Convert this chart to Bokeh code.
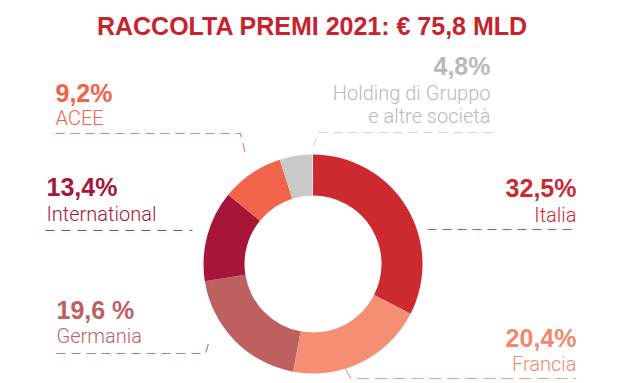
import numpy as np
from bokeh.plotting import figure
from bokeh.models import Range1d, ColumnDataSource
from bokeh.core.properties import value
from bokeh.embed import file_html
from bokeh.resources import INLINE

# ---- data ----
title_text = "RACCOLTA PREMI 2021: € 75,8 MLD"
categories = ["Italia", "Francia", "Germania", "International", "ACEE", "Holding di Gruppo"]
category_line2 = ["", "", "", "", "", "e altre società"]
shares = [32.5, 20.4, 19.6, 13.4, 9.2, 4.8]
share_labels = ["32,5%", "20,4%", "19,6 %", "13,4%", "9,2%", "4,8%"]

# ---- styles / layout ----
seg_colors = ["#cc2a2f", "#f58f74", "#be5f60", "#a71538", "#f1644a", "#c9c9c9"]
txt_colors = ["#cc2a2f", "#f4886c", "#bf5f60", "#a71538", "#f0634a", "#b9b9b9"]
title_color = "#c8232c"
BOLD_FONT = "Liberation Sans"
LABEL_FONT = "Roboto Light"
BOLD_DESC = 0.212 * 25   # descent offset for bottom-baseline placement
LABEL_DESC = 0.244 * 20

W, H = 624, 383
p = figure(width=W, height=H, output_backend="svg", toolbar_location=None,
           x_range=Range1d(0, W), y_range=Range1d(-H, 0),
           x_axis_type=None, y_axis_type=None, min_border=0)
p.grid.visible = False
p.outline_line_color = None
p.background_fill_color = "white"
p.border_fill_color = "white"

# donut
cx, cy = 312.5, -263.5
r_in, r_out = 68.5, 109.5
fr = np.array(shares) / 100.0
cum = np.concatenate([[0.0], np.cumsum(fr)])
start = np.pi / 2 - 2 * np.pi * cum[:-1]
end = np.pi / 2 - 2 * np.pi * cum[1:]
src = ColumnDataSource(dict(start=start, end=end, color=seg_colors))
p.annular_wedge(x=cx, y=cy, inner_radius=r_in, outer_radius=r_out,
                start_angle="start", end_angle="end", direction="clock",
                fill_color="color", line_color=None, source=src)

# label layout per category (image px): anchor x, align, pct baseline, label baselines, leader path, dash
layout = [
    (576, "right", 196, [222], [(427, 229), (576, 229)], "9 6"),
    (576, "right", 346, [371], [(345, 368), (350, 378), (576, 378)], "12 6"),
    (56, "left", 318, [343], [(56, 353), (205, 353), (208, 343)], "9 6"),
    (46, "left", 195, [221], [(45, 230), (192, 230)], "9 7"),
    (55, "left", 101, [125], [(55, 133), (240, 133), (245, 154)], "9 6"),
    (490, "right", 74, [100, 123], [(492, 132), (318, 132), (312, 148)], "9 6"),
]

for i, (ax, al, pb, lbs, path, dash) in enumerate(layout):
    p.text(x=[ax], y=[-(pb + BOLD_DESC)], text=[share_labels[i]], text_align=al,
           text_baseline="bottom", text_font=value(BOLD_FONT),
           text_font_style="bold", text_font_size="25px", text_color=txt_colors[i])
    lines = [categories[i]] + ([category_line2[i]] if category_line2[i] else [])
    for t, b in zip(lines, lbs):
        p.text(x=[ax], y=[-(b + LABEL_DESC)], text=[t], text_align=al, text_baseline="bottom",
               text_font=value(LABEL_FONT), text_font_size="20px", text_color=txt_colors[i])
    xs = [pt[0] for pt in path]
    ys = [-pt[1] for pt in path]
    p.line(xs, ys, line_color=seg_colors[i], line_width=1.2, line_dash=dash, line_alpha=0.85)

p.text(x=[312], y=[-(34 + BOLD_DESC)], text=[title_text], text_align="center", text_baseline="bottom",
       text_font=value(BOLD_FONT), text_font_style="bold", text_font_size="25px",
       text_color=title_color)

open("out.html", "w").write(file_html(p, INLINE))
